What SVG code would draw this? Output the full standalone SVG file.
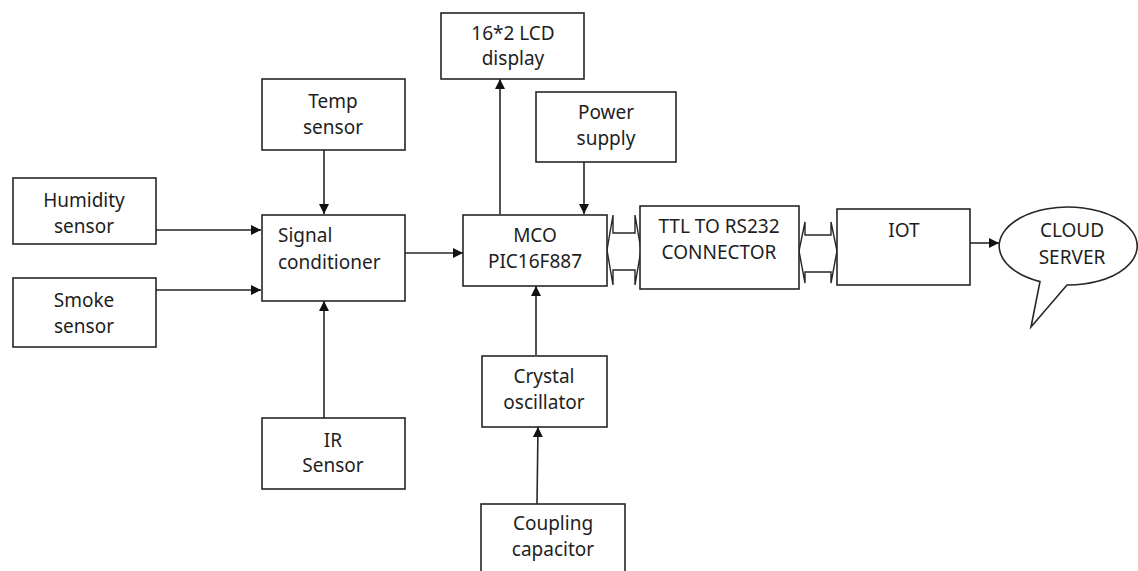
<svg xmlns="http://www.w3.org/2000/svg" width="1138" height="571" viewBox="0 0 1138 571">
<style>
.box{fill:#fff;stroke:#262626;stroke-width:1.6}
.t{font-family:"Noto Sans","Open Sans",sans-serif;font-size:19px;fill:#1e1e1e;text-anchor:middle}
.ts{text-anchor:start}
.c{stroke:#262626;stroke-width:1.6;fill:none}
.ba{fill:#fff;stroke:#262626;stroke-width:1.4;stroke-linejoin:miter}
</style>
<defs>
<marker id="ah" viewBox="0 0 10 10" refX="10" refY="5" markerWidth="10" markerHeight="10" markerUnits="userSpaceOnUse" orient="auto">
<path d="M0,0 L10,5 L0,10 Z" fill="#111"/>
</marker>
</defs>
<rect width="1138" height="571" fill="#fff"/>
<g id="connectors">
<line class="c" x1="324" y1="150" x2="324" y2="214" marker-end="url(#ah)"/>
<line class="c" x1="156" y1="230" x2="261" y2="230" marker-end="url(#ah)"/>
<line class="c" x1="156" y1="290" x2="261" y2="290" marker-end="url(#ah)"/>
<line class="c" x1="324" y1="418" x2="324" y2="301" marker-end="url(#ah)"/>
<line class="c" x1="405" y1="253" x2="463" y2="253" marker-end="url(#ah)"/>
<line class="c" x1="500" y1="214" x2="500" y2="79" marker-end="url(#ah)"/>
<line class="c" x1="584" y1="162" x2="584" y2="214" marker-end="url(#ah)"/>
<line class="c" x1="536" y1="355" x2="536" y2="286" marker-end="url(#ah)"/>
<line class="c" x1="537" y1="504" x2="538" y2="427" marker-end="url(#ah)"/>
<line class="c" x1="970" y1="243" x2="999" y2="243" marker-end="url(#ah)"/>
<polygon class="ba" points="607,250 613,215 613,233 635,233 635,215 641,250 635,285 635,270 613,270 613,285"/>
<polygon class="ba" points="799,251 805,222 805,235 831,235 831,222 837,251 831,283 831,272 805,272 805,283"/>
</g>
<g id="lcd">
<rect class="box" x="441" y="13" width="143" height="66"/>
<text class="t" x="513" y="40">16*2 LCD</text>
<text class="t" x="513" y="65">display</text>
</g>
<g id="temp">
<rect class="box" x="262" y="79" width="143" height="71"/>
<text class="t" x="333" y="108">Temp</text>
<text class="t" x="333" y="134">sensor</text>
</g>
<g id="power">
<rect class="box" x="536" y="92" width="140" height="70"/>
<text class="t" x="606" y="119">Power</text>
<text class="t" x="606" y="145">supply</text>
</g>
<g id="humidity">
<rect class="box" x="13" y="178" width="143" height="66"/>
<text class="t" x="84" y="207">Humidity</text>
<text class="t" x="84" y="233">sensor</text>
</g>
<g id="smoke">
<rect class="box" x="13" y="278" width="143" height="69"/>
<text class="t" x="84" y="307">Smoke</text>
<text class="t" x="84" y="333">sensor</text>
</g>
<g id="signal">
<rect class="box" x="262" y="215" width="143" height="86"/>
<text class="t ts" x="278" y="242">Signal</text>
<text class="t ts" x="278" y="269">conditioner</text>
</g>
<g id="mco">
<rect class="box" x="463" y="215" width="144" height="71"/>
<text class="t" x="535" y="242">MCO</text>
<text class="t" x="535" y="268">PIC16F887</text>
</g>
<g id="ttl">
<rect class="box" x="640" y="206" width="159" height="83"/>
<text class="t" x="719" y="233">TTL TO RS232</text>
<text class="t" x="719" y="259">CONNECTOR</text>
</g>
<g id="iot">
<rect class="box" x="837" y="209" width="133" height="76"/>
<text class="t" x="904" y="237">IOT</text>
</g>
<g id="cloud">
<path class="box" d="M1040,281.6 A69,39 0 1,1 1067,285 L1031,327 Z"/>
<text class="t" x="1072" y="237">CLOUD</text>
<text class="t" x="1072" y="264">SERVER</text>
</g>
<g id="crystal">
<rect class="box" x="482" y="356" width="125" height="71"/>
<text class="t" x="544" y="383">Crystal</text>
<text class="t" x="544" y="409">oscillator</text>
</g>
<g id="ir">
<rect class="box" x="262" y="418" width="143" height="71"/>
<text class="t" x="333" y="447">IR</text>
<text class="t" x="333" y="472">Sensor</text>
</g>
<g id="coupling">
<rect class="box" x="481" y="504" width="144" height="80"/>
<text class="t" x="553" y="530">Coupling</text>
<text class="t" x="553" y="556">capacitor</text>
</g>
</svg>
